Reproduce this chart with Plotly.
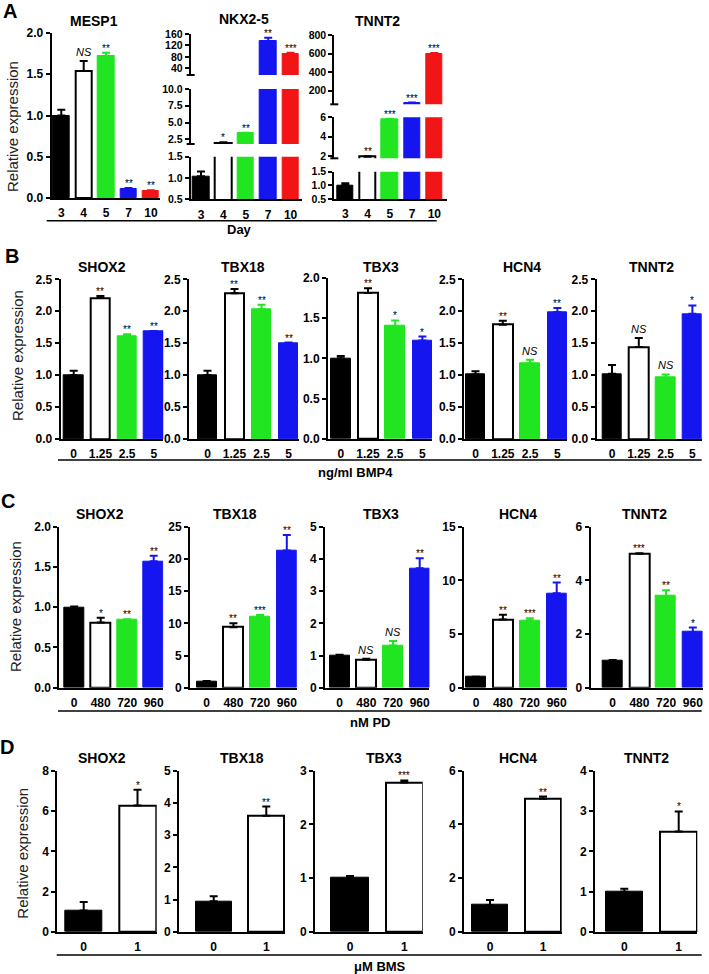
import plotly.graph_objects as go

W, H = 709, 974

# ---------------- data ----------------
days = ["3", "4", "5", "7", "10"]
bmp4_doses = ["0", "1.25", "2.5", "5"]
pd_doses = ["0", "480", "720", "960"]
bms_doses = ["0", "1"]

# Panel A (differentiation time course)
mesp1_A = [1.0, 1.54, 1.72, 0.11, 0.085]
mesp1_A_err = [0.07, 0.12, 0.04, 0.01, 0.01]
mesp1_A_sig = ["", "NS", "**", "**", "**"]

nkx25_A = [1.04, 2.0, 3.4, 136, 92]
nkx25_A_err = [0.11, 0.05, 0.08, 11, 2.5]
nkx25_A_sig = ["", "*", "**", "**", "***"]

tnnt2_A = [1.0, 1.93, 5.78, 70, 590]
tnnt2_A_err = [0.08, 0.04, 0.08, 2, 15]
tnnt2_A_sig = ["", "**", "***", "***", "***"]

# Panel B (BMP4)
shox2_B = [1.0, 2.21, 1.61, 1.68]
shox2_B_err = [0.07, 0.03, 0.03, 0.01]
tbx18_B = [1.0, 2.28, 2.03, 1.50]
tbx18_B_err = [0.07, 0.07, 0.07, 0.01]
tbx3_B = [1.0, 1.81, 1.40, 1.22]
tbx3_B_err = [0.03, 0.06, 0.07, 0.05]
hcn4_B = [1.01, 1.79, 1.18, 1.99]
hcn4_B_err = [0.05, 0.06, 0.06, 0.06]
tnnt2_B = [1.02, 1.44, 0.96, 1.96]
tnnt2_B_err = [0.14, 0.14, 0.05, 0.13]
shox2_B_sig = ["", "**", "**", "**"]
tbx18_B_sig = ["", "**", "**", "**"]
tbx3_B_sig = ["", "**", "*", "*"]
hcn4_B_sig = ["", "**", "NS", "**"]
tnnt2_B_sig = ["", "NS", "NS", "*"]

# Panel C (PD)
shox2_C = [1.0, 0.81, 0.84, 1.57]
shox2_C_err = [0.01, 0.06, 0.01, 0.07]
tbx18_C = [1.0, 9.4, 11.1, 21.3]
tbx18_C_err = [0.05, 0.6, 0.2, 2.4]
tbx3_C = [0.98, 0.87, 1.31, 3.71]
tbx3_C_err = [0.04, 0.03, 0.14, 0.31]
hcn4_C = [0.99, 6.35, 6.26, 8.8]
hcn4_C_err = [0.03, 0.45, 0.2, 1.0]
tnnt2_C = [0.99, 4.99, 3.42, 2.07]
tnnt2_C_err = [0.04, 0.02, 0.21, 0.17]
shox2_C_sig = ["", "*", "**", "**"]
tbx18_C_sig = ["", "**", "***", "**"]
tbx3_C_sig = ["", "NS", "NS", "**"]
hcn4_C_sig = ["", "**", "***", "**"]
tnnt2_C_sig = ["", "***", "**", "*"]

# Panel D (BMS)
shox2_D = [1.07, 6.27]
shox2_D_err = [0.42, 0.78]
tbx18_D = [0.95, 3.6]
tbx18_D_err = [0.16, 0.29]
tbx3_D = [1.01, 2.78]
tbx3_D_err = [0.03, 0.04]
hcn4_D = [1.0, 4.96]
hcn4_D_err = [0.19, 0.08]
tnnt2_D = [1.0, 2.49]
tnnt2_D_err = [0.07, 0.5]
shox2_D_sig = ["", "*"]
tbx18_D_sig = ["", "**"]
tbx3_D_sig = ["", "***"]
hcn4_D_sig = ["", "**"]
tnnt2_D_sig = ["", "*"]

# ---------------- style ----------------
FONT = "Arial, 'Liberation Sans', sans-serif"
BLACK, WHITE = "#000000", "#FFFFFF"
GREEN, BLUE, RED = "#22E522", "#1515F0", "#F21515"
COL5 = [BLACK, WHITE, GREEN, BLUE, RED]
COL4 = [BLACK, WHITE, GREEN, BLUE]
COL2 = [BLACK, WHITE]


def frange(a, b, s):
    out, v = [], a
    while v <= b + 1e-9:
        out.append(round(v, 6))
        v += s
    return out


fig = go.Figure()
layout = {}
annotations = []
shapes = []
n_ax = [0]


def add_axes(x0, x1, c0, sp, ybot, ytop, yrange, tickvals, tickfmt, cats, show_x, yfs):
    n_ax[0] += 1
    k = n_ax[0]
    xn = "xaxis" if k == 1 else f"xaxis{k}"
    yn = "yaxis" if k == 1 else f"yaxis{k}"
    xr = "x" if k == 1 else f"x{k}"
    yr = "y" if k == 1 else f"y{k}"
    layout[xn] = dict(
        domain=[x0 / W, x1 / W], range=[(x0 - c0) / sp, (x1 - c0) / sp], anchor=yr,
        showline=show_x, linecolor=BLACK, linewidth=2, ticks="outside", ticklen=3,
        tickcolor="rgba(0,0,0,0)", showgrid=False, zeroline=False,
        tickvals=list(range(len(cats))), ticktext=cats, showticklabels=show_x,
        tickfont=dict(family=FONT, size=12, color=BLACK, weight="bold"),
        fixedrange=True, automargin=False)
    layout[yn] = dict(
        domain=[1 - ybot / H, 1 - ytop / H], range=yrange, anchor=xr,
        showline=True, linecolor=BLACK, linewidth=2, ticks="outside", ticklen=4,
        tickwidth=2, tickcolor=BLACK, tickvals=tickvals, tickformat=tickfmt,
        showgrid=False, zeroline=False,
        tickfont=dict(family=FONT, size=yfs, color=BLACK, weight="bold"),
        fixedrange=True, automargin=False)
    return xr, yr


def add_plot(x0, x1, c0, sp, cats, vals, errs, sigs, colors, bw, segments,
             title, tx, ty):
    seg_refs = []
    broken = len(segments) > 1
    for si, (ybot, ytop, yrange, tv, tf) in enumerate(segments):
        xr, yr = add_axes(x0, x1, c0, sp, ybot, ytop, yrange, tv, tf, cats, si == 0,
                          10.5 if broken else 12)
        seg_refs.append((xr, yr, yrange))
        for i, (v, e, c) in enumerate(zip(vals, errs, colors)):
            lc = BLACK if c == WHITE else c
            fig.add_trace(go.Bar(
                x=[i], y=[v], width=bw, xaxis=xr, yaxis=yr, showlegend=False,
                marker=dict(color=c, line=dict(color=lc, width=2 if c == WHITE else 1)),
                error_y=dict(type="data", symmetric=False, array=[e], arrayminus=[0],
                             color=lc, thickness=2, width=4),
                hoverinfo="skip"))
        if si > 0:
            # break cap at the bottom of an upper segment
            shapes.append(dict(type="line", xref="paper", yref="paper",
                               x0=(x0 - 4) / W, x1=(x0 + 4) / W,
                               y0=1 - ybot / H, y1=1 - ybot / H,
                               line=dict(color=BLACK, width=2)))
    for i, (v, e, s) in enumerate(zip(vals, errs, sigs)):
        if not s:
            continue
        top = v + e
        ref = seg_refs[-1]
        for (xr, yr, rg) in seg_refs:
            if rg[0] <= top <= rg[1]:
                ref = (xr, yr, rg)
                break
        italic = s == "NS"
        annotations.append(dict(
            x=i, y=top, xref=ref[0], yref=ref[1], yanchor="bottom", xanchor="center",
            yshift=-3 if not italic else 1, showarrow=False,
            text=f"<i>{s}</i>" if italic else s,
            font=dict(family=FONT, size=11 if italic else 10, color=BLACK)))
    annotations.append(dict(
        x=tx / W, y=1 - ty / H, xref="paper", yref="paper", showarrow=False,
        xanchor="center", yanchor="middle", text=title,
        font=dict(family=FONT, size=14, color=BLACK, weight="bold")))


# ---------------- Panel A ----------------
add_plot(51.7, 160, 61.3, 22.4, days, mesp1_A, mesp1_A_err, mesp1_A_sig, COL5, 0.74,
         [(198, 33, [0, 2], frange(0, 2, 0.5), ".1f")], "MESP1", 94, 20.5)
add_plot(190.7, 301.7, 201, 22.4, days, nkx25_A, nkx25_A_err, nkx25_A_sig, COL5, 0.74,
         [(199.3, 156.7, [0.5, 1.5], [0.5, 1.0, 1.5], ".1f"),
          (144, 89, [1.8, 10], [2.5, 5.0, 7.5, 10.0], ".1f"),
          (75, 34, [17, 160], [40, 80, 120, 160], "d")], "NKX2-5", 244, 19)
add_plot(334.3, 446.7, 345.3, 22.25, days, tnnt2_A, tnnt2_A_err, tnnt2_A_sig, COL5, 0.74,
         [(199, 171.7, [0.5, 1.5], [0.5, 1.0, 1.5], ".1f"),
          (158.3, 117.3, [1.76, 6], [2, 4, 6], "d"),
          (104.3, 35, [53, 800], [200, 400, 600, 800], "d")], "TNNT2", 378, 20.5)

# ---------------- Panel B ----------------
yB = (439, 279.3)
add_plot(60.7, 163.3, 73.7, 26.7, bmp4_doses, shox2_B, shox2_B_err, shox2_B_sig, COL4, 0.72,
         [(yB[0], yB[1], [0, 2.5], frange(0, 2.5, 0.5), ".1f")], "SHOX2", 102, 266.7)
add_plot(189, 299, 207.5, 27, bmp4_doses, tbx18_B, tbx18_B_err, tbx18_B_sig, COL4, 0.72,
         [(yB[0], yB[1], [0, 2.5], frange(0, 2.5, 0.5), ".1f")], "TBX18", 242.5, 266.7)
add_plot(328, 432.3, 340.8, 27.2, bmp4_doses, tbx3_B, tbx3_B_err, tbx3_B_sig, COL4, 0.72,
         [(yB[0], 277.7, [0, 2.0], frange(0, 2.0, 0.5), ".1f")], "TBX3", 381, 266.7)
add_plot(464, 567.3, 475.5, 27.3, bmp4_doses, hcn4_B, hcn4_B_err, hcn4_B_sig, COL4, 0.72,
         [(yB[0], yB[1], [0, 2.5], frange(0, 2.5, 0.5), ".1f")], "HCN4", 522, 266.7)
add_plot(596.7, 702.3, 612, 26.8, bmp4_doses, tnnt2_B, tnnt2_B_err, tnnt2_B_sig, COL4, 0.72,
         [(yB[0], yB[1], [0, 2.5], frange(0, 2.5, 0.5), ".1f")], "TNNT2", 651, 266.7)

# ---------------- Panel C ----------------
yC = (687.7, 526.7)
add_plot(59.3, 163.3, 74.2, 26.5, pd_doses, shox2_C, shox2_C_err, shox2_C_sig, COL4, 0.75,
         [(yC[0], yC[1], [0, 2], frange(0, 2, 0.5), ".1f")], "SHOX2", 99.7, 514.3)
add_plot(190, 296.7, 206.7, 26.7, pd_doses, tbx18_C, tbx18_C_err, tbx18_C_sig, COL4, 0.75,
         [(yC[0], yC[1], [0, 25], frange(0, 25, 5), "d")], "TBX18", 235, 514.3)
add_plot(325, 429.3, 339.6, 26.7, pd_doses, tbx3_C, tbx3_C_err, tbx3_C_sig, COL4, 0.75,
         [(yC[0], yC[1], [0, 5], frange(0, 5, 1), "d")], "TBX3", 381, 514.3)
add_plot(464, 566.7, 476, 26.9, pd_doses, hcn4_C, hcn4_C_err, hcn4_C_sig, COL4, 0.75,
         [(yC[0], yC[1], [0, 15], frange(0, 15, 5), "d")], "HCN4", 518, 514.3)
add_plot(590.7, 702.7, 612.7, 26.7, pd_doses, tnnt2_C, tnnt2_C_err, tnnt2_C_sig, COL4, 0.75,
         [(yC[0], yC[1], [0, 6], frange(0, 6, 2), "d")], "TNNT2", 644, 514.3)

# ---------------- Panel D ----------------
yD = (932, 770.7)
add_plot(57.3, 156.7, 83.7, 53.8, bms_doses, shox2_D, shox2_D_err, shox2_D_sig, COL2, 0.69,
         [(yD[0], yD[1], [0, 8], frange(0, 8, 2), "d")], "SHOX2", 102, 758.3)
add_plot(179, 285, 213.7, 52.6, bms_doses, tbx18_D, tbx18_D_err, tbx18_D_sig, COL2, 0.69,
         [(yD[0], yD[1], [0, 5], frange(0, 5, 1), "d")], "TBX18", 241.7, 758.3)
add_plot(315, 422.7, 350, 54.3, bms_doses, tbx3_D, tbx3_D_err, tbx3_D_sig, COL2, 0.69,
         [(yD[0], yD[1], [0, 3], frange(0, 3, 1), "d")], "TBX3", 384, 758.3)
add_plot(464, 561.7, 490, 53, bms_doses, hcn4_D, hcn4_D_err, hcn4_D_sig, COL2, 0.69,
         [(yD[0], yD[1], [0, 6], frange(0, 6, 2), "d")], "HCN4", 517.5, 758.3)
add_plot(595, 697.3, 624.3, 54.4, bms_doses, tnnt2_D, tnnt2_D_err, tnnt2_D_sig, COL2, 0.69,
         [(yD[0], yD[1], [0, 4], frange(0, 4, 1), "d")], "TNNT2", 646.7, 758.3)

# ---------------- panel decorations ----------------
for letter, lx, ly in [("A", 10, 11), ("B", 12, 256), ("C", 8, 501), ("D", 7, 747)]:
    annotations.append(dict(x=lx / W, y=1 - ly / H, xref="paper", yref="paper",
                            showarrow=False, text=letter, xanchor="center", yanchor="middle",
                            font=dict(family=FONT, size=20, color=BLACK, weight="bold")))

for yx, yy in [(13, 127), (17, 356), (15, 607), (21.7, 853)]:
    annotations.append(dict(x=yx / W, y=1 - yy / H, xref="paper", yref="paper",
                            showarrow=False, text="Relative expression", textangle=-90,
                            xanchor="center", yanchor="middle",
                            font=dict(family=FONT, size=15, color="#222222")))

for label, lx0, lx1, ly, tx, ty in [("Day", 46.7, 436.7, 220.7, 240, 229.5),
                                    ("ng/ml BMP4", 58, 701.7, 460, 355, 472),
                                    ("nM PD", 58, 701.7, 711, 370, 722),
                                    ("μM BMS", 56.7, 701.7, 955, 380, 966)]:
    shapes.append(dict(type="line", xref="paper", yref="paper", x0=lx0 / W, x1=lx1 / W,
                       y0=1 - ly / H, y1=1 - ly / H, line=dict(color=BLACK, width=1.5)))
    annotations.append(dict(x=tx / W, y=1 - ty / H, xref="paper", yref="paper",
                            showarrow=False, text=label, xanchor="center", yanchor="middle",
                            font=dict(family=FONT, size=13, color=BLACK, weight="bold")))

fig.update_layout(
    width=W, height=H, autosize=False,
    margin=dict(l=0, r=0, t=0, b=0, pad=0),
    paper_bgcolor="white", plot_bgcolor="white",
    barmode="overlay", bargap=0,
    annotations=annotations, shapes=shapes,
    font=dict(family=FONT, color=BLACK),
    **layout)

fig.write_html("out.html", config={"displayModeBar": False},
               post_script="document.body.style.margin='0px';document.body.style.overflow='hidden';")
